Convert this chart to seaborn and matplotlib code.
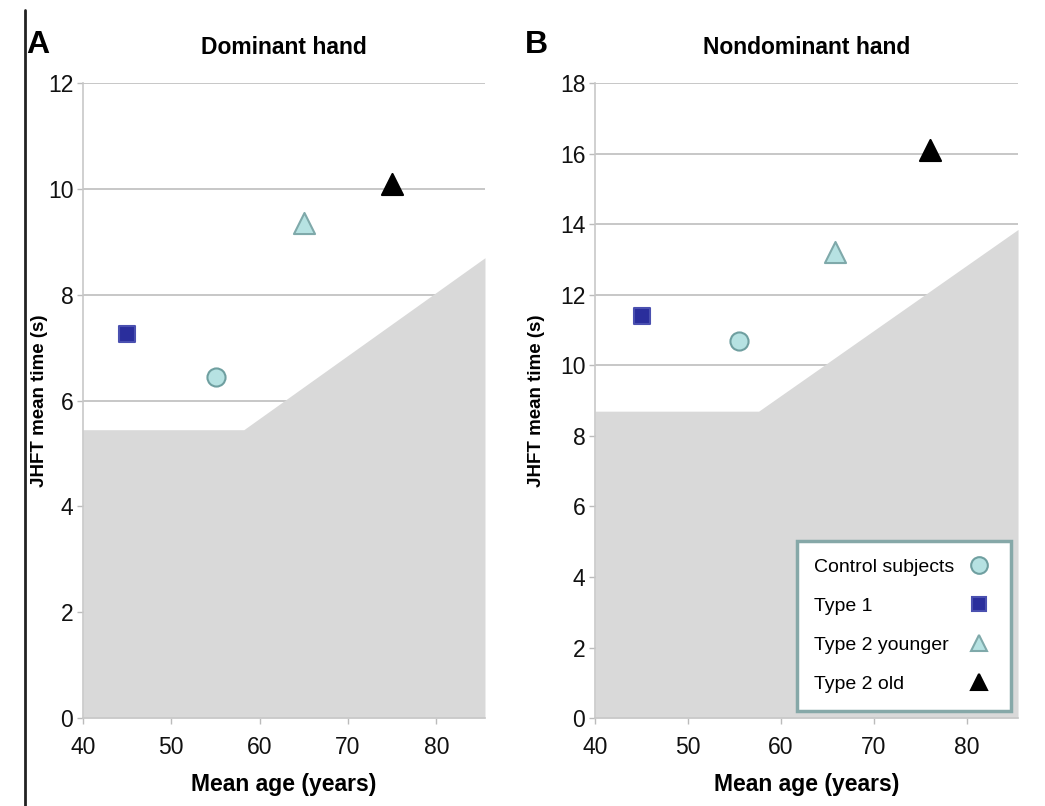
import numpy as np
import pandas as pd
import matplotlib
matplotlib.use('Agg')
import matplotlib.pyplot as plt
from matplotlib.lines import Line2D
import seaborn as sns

sns.set_style('white')
plt.rcParams['font.family'] = ['Liberation Sans', 'DejaVu Sans']
plt.rcParams['text.color'] = 'black'
plt.rcParams['axes.labelcolor'] = 'black'

# group data
groups = ['Control subjects', 'Type 1', 'Type 2 younger', 'Type 2 old']
age_dom = [55, 45, 65, 75]
time_dom = [6.45, 7.25, 9.35, 10.1]
age_nondom = [55.5, 45, 65.8, 76]
time_nondom = [10.7, 11.4, 13.2, 16.1]

# shaded normal-range region (age, upper bound)
band_age_dom = [40, 58.2, 85.5]
band_dom = [5.45, 5.45, 8.7]
band_age_nondom = [40, 57.6, 85.5]
band_nondom = [8.7, 8.7, 13.85]

markers = {'Control subjects': 'o', 'Type 1': 's', 'Type 2 younger': '^', 'Type 2 old': '^'}
faces = {'Control subjects': '#b6e2e2', 'Type 1': '#2a2e9c', 'Type 2 younger': '#b6e2e2', 'Type 2 old': '#000000'}
edges = {'Control subjects': '#6f9fa0', 'Type 1': '#4a50b0', 'Type 2 younger': '#7fa9aa', 'Type 2 old': '#000000'}
sizes = {'Control subjects': 170, 'Type 1': 140, 'Type 2 younger': 230, 'Type 2 old': 230}

fig = plt.figure(figsize=(10.45, 8.06), dpi=100)
ax1 = fig.add_axes([0.0794, 0.109, 0.3847, 0.788])
ax2 = fig.add_axes([0.5694, 0.109, 0.4048, 0.788])


def draw(ax, ages, times, band_x, band, ymax, title, ypad):
    df = pd.DataFrame({'age': ages, 'time': times, 'group': groups})
    ax.set_xlim(40, 85.5)
    ax.set_ylim(0, ymax)
    yt = np.arange(0, ymax + 1, 2)
    for y in yt[1:]:
        ax.axhline(y, color='#bdbdbd', lw=1.2, zorder=1)
    ax.fill_between(band_x, 0, band, color='#d9d9d9', lw=0, zorder=2)
    for g in groups:
        sub = df[df['group'] == g]
        sns.scatterplot(data=sub, x='age', y='time', ax=ax, marker=markers[g],
                        color=faces[g], edgecolor=edges[g], linewidth=1.5,
                        s=sizes[g], zorder=5, legend=False)
    ax.set_xticks([40, 50, 60, 70, 80])
    ax.set_yticks(yt)
    ax.tick_params(axis='both', labelsize=16.5, colors='#bbbbbb', labelcolor='#111111',
                   length=4, width=1, left=True, bottom=True)
    ax.tick_params(axis='x', pad=9)
    ax.tick_params(axis='y', pad=3)
    for s in ['top', 'right']:
        ax.spines[s].set_visible(False)
    for s in ['left', 'bottom']:
        ax.spines[s].set_color('#c8c8c8')
        ax.spines[s].set_linewidth(1.2)
    ax.set_xlabel('Mean age (years)', fontsize=16.5, fontweight='bold', labelpad=10)
    ax.set_ylabel('JHFT mean time (s)', fontsize=13.5, fontweight='bold', labelpad=ypad)
    ax.set_title(title, fontsize=16.5, fontweight='bold', pad=21)


draw(ax1, age_dom, time_dom, band_age_dom, band_dom, 12, 'Dominant hand', 0)
draw(ax2, age_nondom, time_nondom, band_age_nondom, band_nondom, 18, 'Nondominant hand', 11)

fig.text(0.025, 0.944, 'A', fontsize=23, fontweight='bold', va='center')
fig.text(0.502, 0.944, 'B', fontsize=23, fontweight='bold', va='center')
fig.add_artist(Line2D([0.024, 0.024], [0.0, 0.988], color='#222222', lw=2))

handles = [Line2D([], [], ls='', marker=markers[g], markersize=12 if g != 'Type 1' else 10,
                  markerfacecolor=faces[g], markeredgecolor=edges[g], markeredgewidth=1.5)
           for g in groups]
leg = ax2.legend(handles, groups, loc='lower right', bbox_to_anchor=(0.983, 0.012),
                 markerfirst=False, frameon=True, fancybox=False, fontsize=14,
                 labelspacing=1.1, borderpad=0.9, handletextpad=0.5, borderaxespad=0,
                 handlelength=1.5)
leg.get_frame().set_edgecolor('#86a8a8')
leg.get_frame().set_linewidth(2.5)
leg.get_frame().set_facecolor('white')
leg.get_frame().set_alpha(1)
leg.set_zorder(10)

# left-align legend labels while keeping the markers in one column
fig.canvas.draw()
r = fig.canvas.get_renderer()
widths = [t.get_window_extent(r).width for t in leg.texts]
mw = max(widths)
column = leg._legend_handle_box.get_children()[0]
column.align = 'left'
for item, w in zip(column.get_children(), widths):
    item.sep += (mw - w) * 72 / fig.dpi

fig.savefig('out.png', dpi=100)
